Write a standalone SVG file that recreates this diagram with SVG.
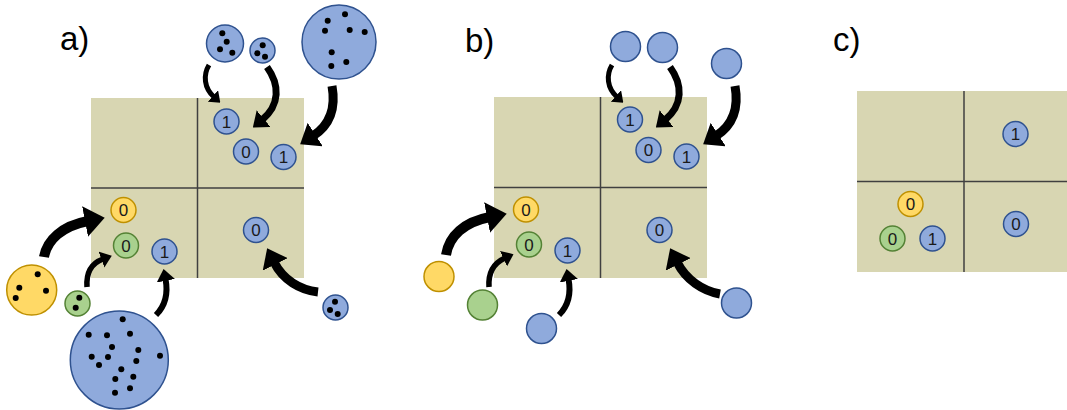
<svg xmlns="http://www.w3.org/2000/svg" width="1067" height="410" viewBox="0 0 1067 410">
<style>
.grid{fill:#D8D6B2}
.gl{stroke:#404040;stroke-width:1.5;fill:none}
.b{fill:#8FAADC;stroke:#2F528F;stroke-width:1.5}
.y{fill:#FFD966;stroke:#BF9000;stroke-width:1.5}
.g{fill:#A9D18E;stroke:#548235;stroke-width:1.5}
.d{fill:#000}
.n{font-family:"Liberation Sans",Arial,sans-serif;font-size:17px;fill:#1a1a1a;text-anchor:middle}
.lbl{font-family:"Liberation Sans",Arial,sans-serif;font-size:33px;fill:#000}
.ar{fill:none;stroke:#000;marker-end:url(#ah)}
</style>
<defs>
<marker id="ah" viewBox="0 0 2 3.1" refX="0.3" refY="1.55" markerWidth="2" markerHeight="3.1" orient="auto" markerUnits="strokeWidth">
<path d="M0,0 L2,1.55 L0,3.1 z" fill="#000"/>
</marker>
</defs>
<rect width="1067" height="410" fill="#fff"/>

<text class="lbl" x="60" y="50">a)</text>
<text class="lbl" x="465" y="52">b)</text>
<text class="lbl" x="833" y="51">c)</text>

<!-- grids -->
<g id="gridA"><rect class="grid" x="91" y="98" width="213" height="180"/><path class="gl" d="M197.5,98 V278 M91,188 H304"/></g>
<g id="gridB"><rect class="grid" x="494" y="97" width="213" height="181"/><path class="gl" d="M600.5,97 V278 M494,187.5 H707"/></g>
<g id="gridC"><rect class="grid" x="857" y="91" width="210" height="181"/><path class="gl" d="M964,91 V272 M857,181.5 H1067"/></g>

<!-- connectors -->
<g id="connectors">
<g id="arrowsA">
<path class="ar" stroke-width="5" d="M209,65 C203,75 204,88 214,97"/>
<path class="ar" stroke-width="7" d="M267,67 C280,85 280,105 262,120"/>
<path class="ar" stroke-width="9" d="M332,86 C336,108 330,125 313,136"/>
<path class="ar" stroke-width="10" d="M44,257 C47,240 62,226 88,221"/>
<path class="ar" stroke-width="5.5" d="M87,287 C86,272 92,263 103,259"/>
<path class="ar" stroke-width="6" d="M156,315 C166,305 168,292 165.5,279"/>
<path class="ar" stroke-width="9" d="M318,292 C300,290 283,280 274,262"/>
</g>
<g id="arrowsB" transform="translate(403,0)">
<path class="ar" stroke-width="5" d="M209,65 C203,75 204,88 214,97"/>
<path class="ar" stroke-width="7" d="M267,67 C280,85 280,105 262,120"/>
<path class="ar" stroke-width="9" d="M332,86 C336,108 330,125 313,136"/>
<path class="ar" stroke-width="10" d="M43,255 C46,236 61,222 87,217"/>
<path class="ar" stroke-width="5.5" d="M86,287 C85,272 91,263 102,258"/>
<path class="ar" stroke-width="6" d="M156,315 C166,305 168,292 165.5,279"/>
<path class="ar" stroke-width="9" d="M317,294 C300,291 283,280 274,262"/>
</g>
</g>

<!-- panel a sources -->
<g id="a_src1"><circle class="b" cx="225" cy="43.5" r="18.5"/><g class="d"><circle cx="222.3" cy="33.3" r="3"/><circle cx="226.7" cy="41.7" r="3"/><circle cx="220" cy="49.3" r="3"/><circle cx="232.3" cy="52.7" r="3"/></g></g>
<g id="a_src2"><circle class="b" cx="262.5" cy="50.5" r="12.5"/><g class="d"><circle cx="262.7" cy="45.3" r="3"/><circle cx="257.3" cy="53.3" r="3"/><circle cx="265" cy="56.7" r="3"/></g></g>
<g id="a_src3"><circle class="b" cx="339" cy="42" r="37"/><g class="d"><circle cx="345" cy="14.3" r="3"/><circle cx="327.7" cy="20.7" r="3"/><circle cx="325" cy="30.7" r="3"/><circle cx="349.7" cy="30" r="3"/><circle cx="364.7" cy="32" r="3"/><circle cx="331.7" cy="52.3" r="3"/><circle cx="346.3" cy="62" r="3"/><circle cx="331.3" cy="66" r="3"/></g></g>
<g id="a_src4"><circle class="y" cx="31.7" cy="290" r="25"/><g class="d"><circle cx="37.7" cy="274.3" r="3"/><circle cx="19.3" cy="287.7" r="3"/><circle cx="46" cy="290.7" r="3"/><circle cx="15.7" cy="298" r="3"/></g></g>
<g id="a_src5"><circle class="g" cx="77.5" cy="303.5" r="12.5"/><g class="d"><circle cx="79.3" cy="297.7" r="3"/><circle cx="75.7" cy="307.7" r="3"/></g></g>
<g id="a_src6"><circle class="b" cx="119.3" cy="360" r="49"/><g class="d"><circle cx="122.7" cy="319.3" r="3"/><circle cx="88.7" cy="334.7" r="3"/><circle cx="107" cy="335.3" r="3"/><circle cx="130" cy="333.7" r="3"/><circle cx="112" cy="347" r="3"/><circle cx="138.3" cy="350" r="3"/><circle cx="160" cy="355.7" r="3"/><circle cx="91.7" cy="356.7" r="3"/><circle cx="108" cy="357" r="3"/><circle cx="136.3" cy="361" r="3"/><circle cx="99" cy="365" r="3"/><circle cx="121.3" cy="369.3" r="3"/><circle cx="133.3" cy="376.7" r="3"/><circle cx="115.3" cy="379" r="3"/><circle cx="130" cy="388.3" r="3"/><circle cx="115" cy="392.7" r="3"/></g></g>
<g id="a_src7"><circle class="b" cx="335.5" cy="307.5" r="12.5"/><g class="d"><circle cx="335" cy="301.7" r="3"/><circle cx="330" cy="310" r="3"/><circle cx="337.7" cy="314" r="3"/></g></g>

<!-- panel a labeled nodes -->
<g id="a_n1"><circle class="b" cx="226.5" cy="121.5" r="12.5"/><text class="n" x="226.5" y="127.5">1</text></g>
<g id="a_n2"><circle class="b" cx="246" cy="151.5" r="12.5"/><text class="n" x="246" y="157.5">0</text></g>
<g id="a_n3"><circle class="b" cx="283.5" cy="157" r="12.5"/><text class="n" x="283.5" y="163">1</text></g>
<g id="a_n4"><circle class="y" cx="123.5" cy="210" r="12.5"/><text class="n" x="123.5" y="216">0</text></g>
<g id="a_n5"><circle class="g" cx="126" cy="245.5" r="12.5"/><text class="n" x="126" y="251.5">0</text></g>
<g id="a_n6"><circle class="b" cx="164.5" cy="251.5" r="12.5"/><text class="n" x="164.5" y="257.5">1</text></g>
<g id="a_n7"><circle class="b" cx="256" cy="230" r="12.5"/><text class="n" x="256" y="236">0</text></g>

<!-- panel b sources -->
<g id="b_src1"><circle class="b" cx="625.5" cy="46.5" r="15"/></g>
<g id="b_src2"><circle class="b" cx="662.5" cy="47.5" r="15"/></g>
<g id="b_src3"><circle class="b" cx="726.5" cy="63.5" r="15"/></g>
<g id="b_src4"><circle class="y" cx="439" cy="276.5" r="15"/></g>
<g id="b_src5"><circle class="g" cx="482.5" cy="305" r="15"/></g>
<g id="b_src6"><circle class="b" cx="541.5" cy="328.5" r="15"/></g>
<g id="b_src7"><circle class="b" cx="736.5" cy="303" r="15"/></g>

<!-- panel b labeled nodes -->
<g id="b_n1"><circle class="b" cx="630" cy="119.5" r="12.5"/><text class="n" x="630" y="125.5">1</text></g>
<g id="b_n2"><circle class="b" cx="648.5" cy="150" r="12.5"/><text class="n" x="648.5" y="156">0</text></g>
<g id="b_n3"><circle class="b" cx="686.5" cy="156.5" r="12.5"/><text class="n" x="686.5" y="162.5">1</text></g>
<g id="b_n4"><circle class="y" cx="526" cy="209.5" r="12.5"/><text class="n" x="526" y="215.5">0</text></g>
<g id="b_n5"><circle class="g" cx="529" cy="244.5" r="12.5"/><text class="n" x="529" y="250.5">0</text></g>
<g id="b_n6"><circle class="b" cx="567.5" cy="250.5" r="12.5"/><text class="n" x="567.5" y="256.5">1</text></g>
<g id="b_n7"><circle class="b" cx="659.5" cy="230" r="12.5"/><text class="n" x="659.5" y="236">0</text></g>

<!-- panel c labeled nodes -->
<g id="c_n1"><circle class="b" cx="1015.5" cy="134" r="12.5"/><text class="n" x="1015.5" y="140">1</text></g>
<g id="c_n2"><circle class="y" cx="910.5" cy="204" r="12.5"/><text class="n" x="910.5" y="210">0</text></g>
<g id="c_n3"><circle class="g" cx="892.5" cy="238.5" r="12.5"/><text class="n" x="892.5" y="244.5">0</text></g>
<g id="c_n4"><circle class="b" cx="932.5" cy="238.5" r="12.5"/><text class="n" x="932.5" y="244.5">1</text></g>
<g id="c_n5"><circle class="b" cx="1016" cy="224" r="12.5"/><text class="n" x="1016" y="230">0</text></g>
</svg>
